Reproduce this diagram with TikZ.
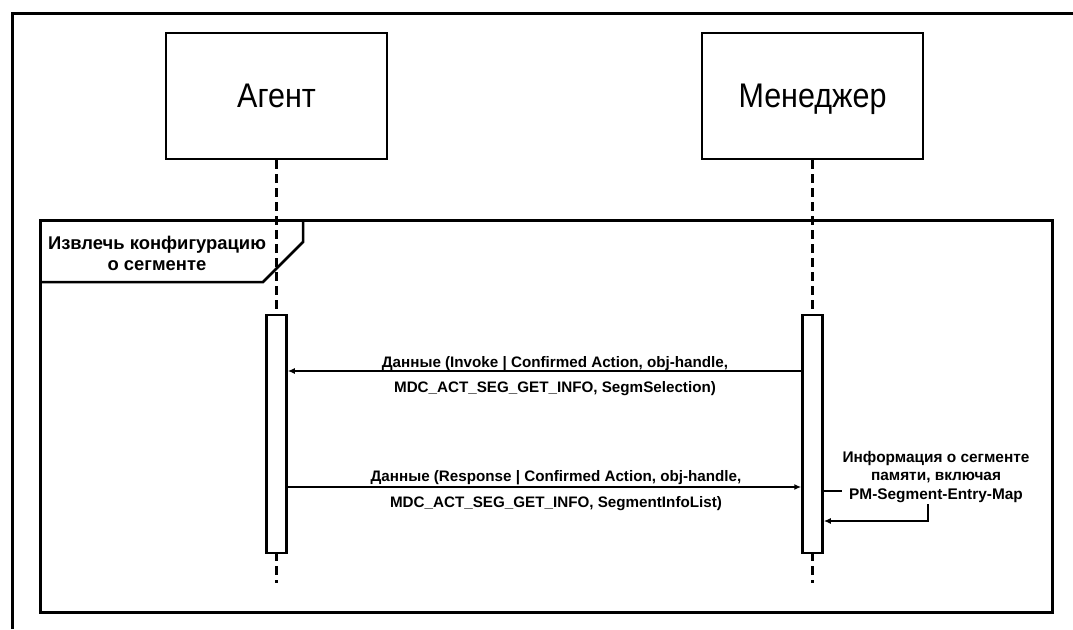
\documentclass[tikz,border=0pt]{standalone}
\usepackage{fontspec}
\usepackage{graphicx}
\setmainfont{Liberation Sans}
\usetikzlibrary{arrows.meta}
\begin{document}
\begin{tikzpicture}[x=1pt,y=-1pt,
 actor/.style={draw,line width=2.5pt,minimum width=221pt,minimum height=126pt,inner sep=0pt,text height=26pt,text depth=4pt,font=\fontsize{30.5}{32}\selectfont},
 bar/.style={draw,line width=2.5pt,fill=white,minimum width=20pt,minimum height=238pt,inner sep=0pt},
 life/.style={line width=2.4pt,dash pattern=on 9pt off 5pt},
 msg/.style={line width=1.8pt,-{Latex[length=7pt,width=6pt]}},
 frame/.style={line width=3pt},
 lbl/.style={font=\bfseries\fontsize{15.2}{18}\selectfont,inner sep=0pt},
 flbl/.style={font=\bfseries\fontsize{18.4}{21}\selectfont,align=center,inner sep=0pt},
 slbl/.style={font=\bfseries\fontsize{15.4}{18.5}\selectfont,align=center,inner sep=1pt,fill=white}
]
\useasboundingbox (0,0) rectangle (1073,629);
\draw[frame] (12,629) -- (12,13) -- (1073,13);
\node[actor] (A) at (276.5,96) {\scalebox{1}[1.12]{Агент}};
\node[actor] (M) at (812.5,96) {\scalebox{1}[1.12]{Менеджер}};
\coordinate (Ae) at (276.5,583);
\coordinate (Me) at (812.5,583);
\draw[life] (A.south) -- (Ae);
\draw[life] (M.south) -- (Me);
% fragment
\draw[frame] (40,220) rectangle (1052,612);
\coordinate (f1) at (40,282);
\coordinate (f2) at (263,282);
\coordinate (f3) at (303,242);
\coordinate (f4) at (303,220);
\draw[line width=2.5pt] (f1) -- (f2) -- (f3) -- (f4);
\node[flbl] (F) at (157,253.5) {Извлечь конфигурацию\\о сегменте};
% activation bars
\node[bar] (AB) at (276.5,434) {};
\node[bar] (MB) at (812.5,434) {};
% message 1
\coordinate (y1) at (0,371);
\draw[msg] (y1 -| MB.west) -- (y1 -| AB.east);
\node[lbl,anchor=base] (m1a) at (555,367) {Данные (Invoke | Confirmed Action, obj-handle,};
\node[lbl,anchor=base] (m1b) at (555,392) {MDC\_ACT\_SEG\_GET\_INFO, SegmSelection)};
% message 2
\coordinate (y2) at (0,487);
\draw[msg] (y2 -| AB.east) -- (y2 -| MB.west);
\node[lbl,anchor=base] (m2a) at (556,481) {Данные (Response | Confirmed Action, obj-handle,};
\node[lbl,anchor=base] (m2b) at (556,507) {MDC\_ACT\_SEG\_GET\_INFO, SegmentInfoList)};
% self message
\coordinate (y3) at (0,491);
\coordinate (y4) at (0,521);
\coordinate (c1) at (928,491);
\coordinate (c2) at (928,521);
\draw[msg] (y3 -| MB.east) -- (c1) -- (c2) -- (y4 -| MB.east);
\node[slbl] (S) at (936,477) {Информация о сегменте\\памяти, включая\\PM-Segment-Entry-Map};
\end{tikzpicture}
\end{document}
